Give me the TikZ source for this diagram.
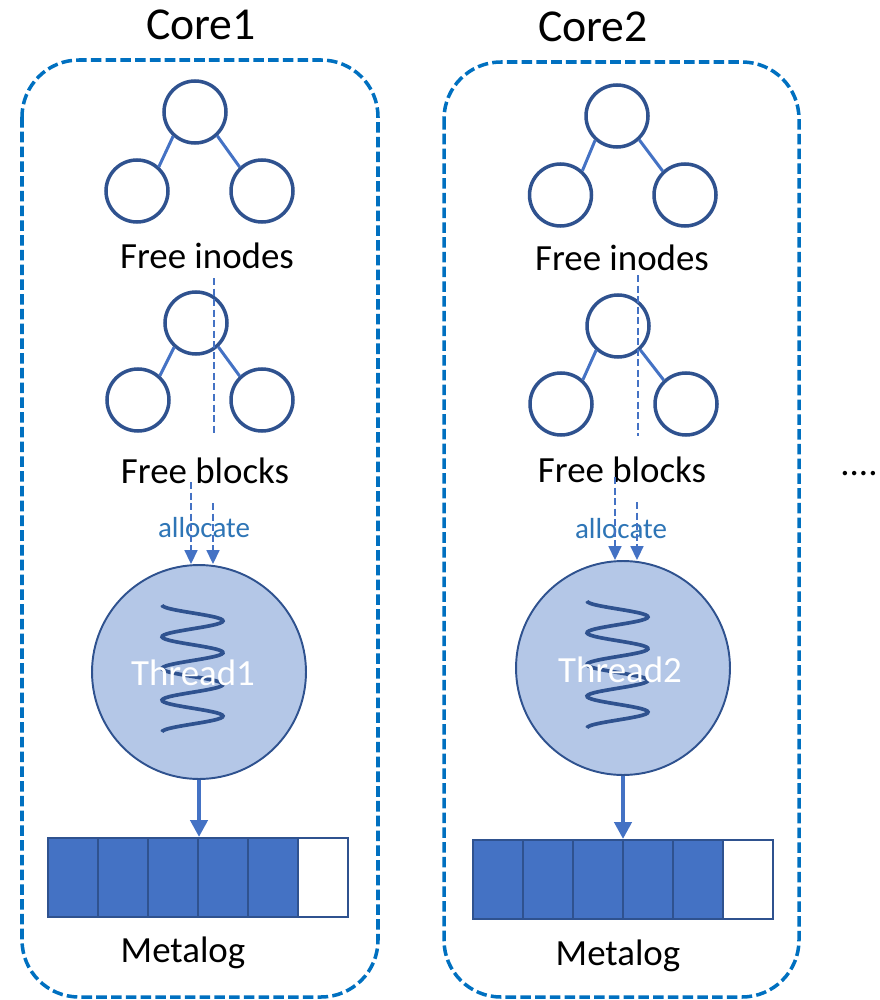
\documentclass[tikz,border=0pt]{standalone}
\usepackage{fontspec}
\setmainfont{Carlito}
\usetikzlibrary{arrows.meta}
\definecolor{coreblue}{RGB}{0,112,192}
\definecolor{treeblue}{RGB}{47,82,143}
\definecolor{lineblue}{RGB}{68,114,196}
\definecolor{threadfill}{RGB}{180,199,231}
\definecolor{allocblue}{RGB}{46,117,182}
\begin{document}
\begin{tikzpicture}[x=0.02cm, y=-0.02cm,
 core/.style={draw=coreblue, line width=2pt, dash pattern=on 6pt off 2.4pt, rounded corners=1.14cm},
 title/.style={anchor=base, font=\fontsize{26}{31}\selectfont},
 lbl/.style={anchor=base, font=\fontsize{21}{25}\selectfont},
 alloc/.style={anchor=base, text=allocblue, font=\fontsize{16.5}{20}\selectfont},
 leaf/.style={circle, draw=treeblue, line width=2pt, minimum size=1.24cm, inner sep=0pt},
 branch/.style={lineblue, line width=1.7pt},
 guide/.style={lineblue, line width=1pt, dash pattern=on 4pt off 2pt},
 fetch/.style={guide, -{Triangle[length=0.28cm,width=0.26cm]}},
 thread/.style={circle, draw=treeblue, fill=threadfill, line width=1.1pt, minimum size=4.28cm, inner sep=0pt},
 spring/.style={treeblue, line width=2.1pt},
 threadtext/.style={anchor=base, text=white, font=\fontsize{21}{25}\selectfont},
 cell/.style={draw=treeblue, line width=1.3pt, minimum width=1cm, minimum height=1.58cm, inner sep=0pt, anchor=north west},
 push/.style={lineblue, line width=2.6pt, -{Triangle[length=0.34cm,width=0.34cm]}}]
 \useasboundingbox (0,0) rectangle (879,1000);

 \draw[core] (22,60) rectangle (378,997);
 \node[title] (core1) at (201,40) {Core1};
 \node[leaf] (i1) at (195,112) {};
 \node[leaf] (i1l) at (137,191) {};
 \node[leaf] (i1r) at (262,191) {};
 \draw[branch] (i1.228) -- (i1l.48) (i1.313) -- (i1r.133);
 \node[lbl] (inodes1) at (207,268) {Free inodes};
 \node[leaf] (b1) at (196,323) {};
 \node[leaf] (b1l) at (138,400) {};
 \node[leaf] (b1r) at (262,400) {};
 \draw[branch] (b1.228) -- (b1l.48) (b1.313) -- (b1r.133);
 \coordinate (g1a) at (214,278);
 \coordinate (g1b) at (214,435);
 \draw[guide] (g1a) -- (g1b);
 \node[lbl] (blocks1) at (205,483) {Free blocks};
 \node[alloc] (alloc1) at (204,537) {allocate};
 \node[thread] (t1) at (199,672) {};
 \draw[spring] plot[domain=0:127, samples=120, smooth] ({192.5-30.5*cos(\x*11.339)},{605+\x});
 \node[threadtext] (name1) at (193,685) {Thread1};
 \coordinate (f1a) at (191,482);
 \coordinate (f1b) at (213,503);
 \draw[fetch] (f1a) -- (f1a |- t1.north);
 \draw[fetch] (f1b) -- (f1b |- t1.north);
 \foreach \i/\c in {1/lineblue,2/lineblue,3/lineblue,4/lineblue,5/lineblue,6/white}
  \node[cell, fill=\c] (m1-\i) at ({47+50*(\i-1)},837) {};
 \draw[push] (t1.south) -- (t1.south |- m1-3.north east);
 \node[lbl] (log1) at (183,962) {Metalog};

 \draw[core] (444,62) rectangle (799,997);
 \node[title] (core2) at (593,42) {Core2};
 \node[leaf] (i2) at (617,116) {};
 \node[leaf] (i2l) at (560.5,195) {};
 \node[leaf] (i2r) at (685,195) {};
 \draw[branch] (i2.228) -- (i2l.48) (i2.313) -- (i2r.133);
 \node[lbl] (inodes2) at (622,270) {Free inodes};
 \node[leaf] (b2) at (618,326) {};
 \node[leaf] (b2l) at (561,404) {};
 \node[leaf] (b2r) at (686,404) {};
 \draw[branch] (b2.228) -- (b2l.48) (b2.313) -- (b2r.133);
 \coordinate (g2a) at (638,275);
 \coordinate (g2b) at (638,436);
 \draw[guide] (g2a) -- (g2b);
 \node[lbl] (blocks2) at (622,482) {Free blocks};
 \node[alloc] (alloc2) at (621,538) {allocate};
 \node[thread] (t2) at (623,668) {};
 \draw[spring] plot[domain=0:127, samples=120, smooth] ({617.5-30.5*cos(\x*11.339)},{601+\x});
 \node[threadtext] (name2) at (620,682) {Thread2};
 \coordinate (f2a) at (615,477);
 \coordinate (f2b) at (637,502);
 \draw[fetch] (f2a) -- (f2a |- t2.north);
 \draw[fetch] (f2b) -- (f2b |- t2.north);
 \foreach \i/\c in {1/lineblue,2/lineblue,3/lineblue,4/lineblue,5/lineblue,6/white}
  \node[cell, fill=\c] (m2-\i) at ({472+50*(\i-1)},839) {};
 \draw[push] (t2.south) -- (t2.south |- m2-3.north east);
 \node[lbl] (log2) at (618,965) {Metalog};

 \node[lbl] (more) at (859,475) {....};
\end{tikzpicture}
\end{document}
